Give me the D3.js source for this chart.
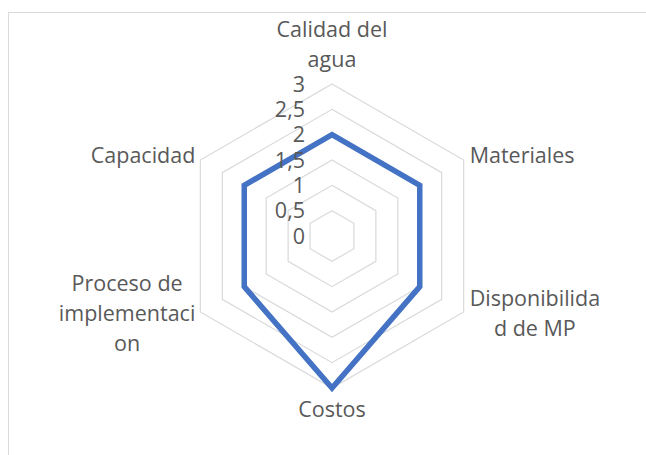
<!DOCTYPE html>
<html>
<head>
<meta charset="utf-8">
<script src="https://cdn.jsdelivr.net/npm/d3@7"></script>
<style>
	body { margin: 0; background: #fff; }
	svg { display: block; }
	text { font-family: "Open Sans", sans-serif; fill: #595959; }
</style>
</head>
<body>
<div id="chartContent"></div>
<script>
// data
var categories = ["Calidad del agua", "Materiales", "Disponibilidad de MP", "Costos", "Proceso de implementacion", "Capacidad"];
// how the labels wrap in the original
var categoryLines = [["Calidad del", "agua"], ["Materiales"], ["Disponibilida", "d de MP"], ["Costos"], ["Proceso de", "implementaci", "on"], ["Capacidad"]];
var values = [2, 2, 2, 3, 2, 2];
var tickValues = [0, 0.5, 1, 1.5, 2, 2.5, 3];
var tickLabels = ["0", "0,5", "1", "1,5", "2", "2,5", "3"];

var width = 646, height = 455;
var cx = 332, cy = 236, radius = 152;
var fontSize = 21.5, lineHeight = 30;

var svg = d3.select("#chartContent")
	.append("svg")
		.attr("width", width)
		.attr("height", height);

// chart frame
svg.append("rect")
	.attr("x", 8.5)
	.attr("y", 12.5)
	.attr("width", width + 20)
	.attr("height", height + 20)
	.attr("fill", "none")
	.attr("stroke", "#d9d9d9")
	.attr("stroke-width", 1);

var r = d3.scaleLinear().domain([0, 3]).range([0, radius]);
var angle = d3.scaleLinear().domain([0, categories.length]).range([0, 2 * Math.PI]);

function pt(i, v) {
	var a = angle(i);
	return [cx + r(v) * Math.sin(a), cy - r(v) * Math.cos(a)];
}

var g = svg.append("g");

// grid hexagons
g.selectAll("polygon.grid")
	.data(tickValues.filter(function(d) { return d > 0; }))
	.enter()
	.append("polygon")
		.attr("class", "grid")
		.attr("points", function(v) {
			return categories.map(function(c, i) { return pt(i, v).join(","); }).join(" ");
		})
		.attr("fill", "none")
		.attr("stroke", "#d9d9d9")
		.attr("stroke-width", 1.2);

// series
g.append("polygon")
	.attr("points", values.map(function(v, i) { return pt(i, v).join(","); }).join(" "))
	.attr("fill", "none")
	.attr("stroke", "#4472C4")
	.attr("stroke-width", 5.5)
	.attr("stroke-linejoin", "miter");

// tick labels
g.selectAll("text.tick")
	.data(tickValues)
	.enter()
	.append("text")
		.attr("class", "tick")
		.attr("x", cx - 27)
		.attr("y", function(d) { return cy - r(d) + 7.5; })
		.attr("text-anchor", "end")
		.style("font-size", fontSize + "px")
		.text(function(d, i) { return tickLabels[i]; });

// category labels
categoryLines.forEach(function(lines, i) {
	var p = pt(i, 3);
	var a = angle(i);
	var s = Math.sin(a), c = Math.cos(a);
	var t = g.append("text")
		.attr("class", "cat")
		.attr("text-anchor", "middle")
		.style("font-size", fontSize + "px");
	t.selectAll("tspan")
		.data(lines)
		.enter()
		.append("tspan")
			.text(function(d) { return d; });
	var maxW = 0;
	t.selectAll("tspan").each(function() { maxW = Math.max(maxW, this.getComputedTextLength()); });

	var x, yFirst;
	var n = lines.length;
	if (Math.abs(s) < 0.01) {
		x = p[0];
		if (c > 0) yFirst = p[1] - 17 - (n - 1) * lineHeight;  // top
		else yFirst = p[1] + 29;                                 // bottom
	} else {
		x = s > 0 ? p[0] + 6 + maxW / 2 : p[0] - 5 - maxW / 2;
		var off = n === 1 ? 3 : 9;
		yFirst = p[1] + off - (n - 1) / 2 * lineHeight;
	}
	t.selectAll("tspan")
		.attr("x", x)
		.attr("y", function(d, j) { return yFirst + j * lineHeight; });
});
</script>
</body>
</html>
